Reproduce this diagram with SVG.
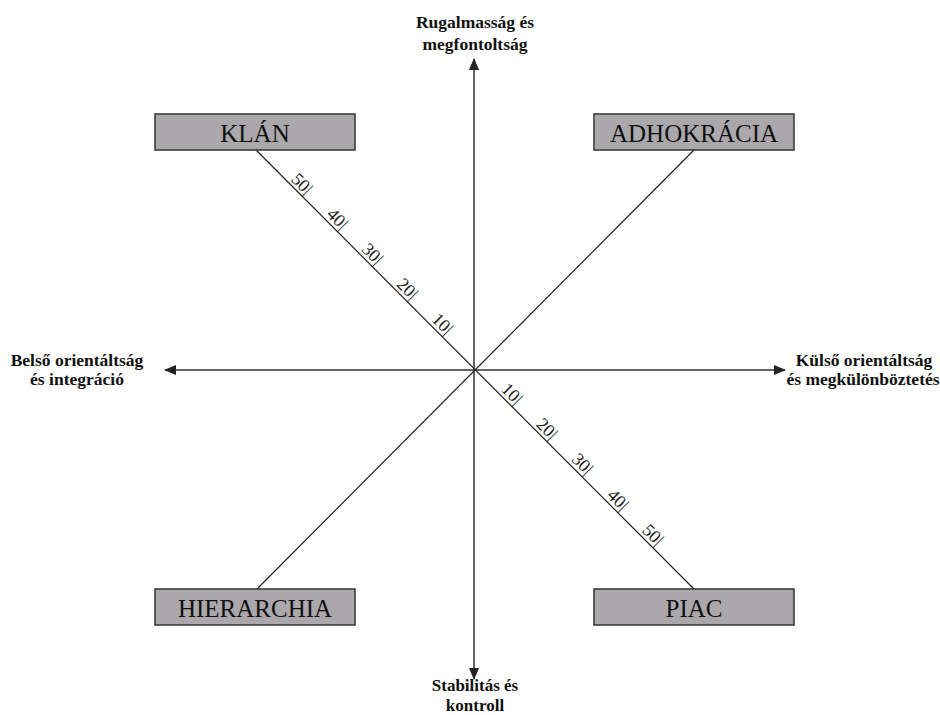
<svg xmlns="http://www.w3.org/2000/svg" width="940" height="715" viewBox="0 0 940 715">
<style>
.box{fill:#aaa8ab;stroke:#333;stroke-width:1.5}
.bl{font-family:"Liberation Serif","Times New Roman",serif;font-size:25px;fill:#111;text-anchor:middle}
.ax{font-family:"Liberation Serif","Times New Roman",serif;font-size:17.5px;font-weight:bold;fill:#111;text-anchor:middle}
.axb{font-size:17px}
.axis{stroke:#333;stroke-width:1.5;fill:none}
.diag{stroke:#222;stroke-width:1.2;fill:none}
.tk{font-family:"Liberation Serif","Times New Roman",serif;font-size:18px;fill:#222;text-anchor:end}
</style>
<defs>
<marker id="ah" viewBox="0 0 12 10" refX="11" refY="5" markerWidth="12" markerHeight="10" markerUnits="userSpaceOnUse" orient="auto-start-reverse">
<path d="M0,0 L12,5 L0,10 Z" fill="#222"/>
</marker>
</defs>
<rect width="940" height="715" fill="#fff"/>
<g id="connectors">
<line class="axis" x1="474" y1="59" x2="474" y2="679" marker-start="url(#ah)" marker-end="url(#ah)"/>
<line class="axis" x1="165" y1="370" x2="785" y2="370" marker-start="url(#ah)" marker-end="url(#ah)"/>
<line class="diag" x1="256" y1="150" x2="694" y2="589"/>
<line class="diag" x1="694" y1="150" x2="257" y2="589"/>
</g>
<g id="scale-klan">
<text class="tk" transform="translate(303 198) rotate(45)" y="-3.5">50|</text>
<text class="tk" transform="translate(338.5 233) rotate(45)" y="-3.5">40|</text>
<text class="tk" transform="translate(373.5 268) rotate(45)" y="-3.5">30|</text>
<text class="tk" transform="translate(408.5 303) rotate(45)" y="-3.5">20|</text>
<text class="tk" transform="translate(443.5 338) rotate(45)" y="-3.5">10|</text>
</g>
<g id="scale-piac">
<text class="tk" transform="translate(513 408) rotate(45)" y="-3.5">10|</text>
<text class="tk" transform="translate(548 443) rotate(45)" y="-3.5">20|</text>
<text class="tk" transform="translate(583.5 478) rotate(45)" y="-3.5">30|</text>
<text class="tk" transform="translate(619 514) rotate(45)" y="-3.5">40|</text>
<text class="tk" transform="translate(654 549) rotate(45)" y="-3.5">50|</text>
</g>
<g id="klan">
<rect class="box" x="155" y="114" width="200" height="36"/>
<text class="bl" x="255" y="141.5">KLÁN</text>
</g>
<g id="adhokracia">
<rect class="box" x="594" y="114" width="200" height="36"/>
<text class="bl" x="694" y="141.5">ADHOKRÁCIA</text>
</g>
<g id="hierarchia">
<rect class="box" x="155" y="589" width="200" height="36"/>
<text class="bl" x="255" y="616.5">HIERARCHIA</text>
</g>
<g id="piac">
<rect class="box" x="594" y="589" width="200" height="36"/>
<text class="bl" x="694" y="616.5">PIAC</text>
</g>
<g id="label-top">
<text class="ax" x="475" y="28">Rugalmasság és</text>
<text class="ax" x="475" y="50">megfontoltság</text>
</g>
<g id="label-bottom">
<text class="ax axb" x="475" y="691">Stabilitás és</text>
<text class="ax axb" x="475" y="711">kontroll</text>
</g>
<g id="label-left">
<text class="ax" x="77" y="366">Belső orientáltság</text>
<text class="ax" x="77" y="385">és integráció</text>
</g>
<g id="label-right">
<text class="ax" x="864" y="366">Külső orientáltság</text>
<text class="ax" x="863" y="385">és megkülönböztetés</text>
</g>
</svg>
